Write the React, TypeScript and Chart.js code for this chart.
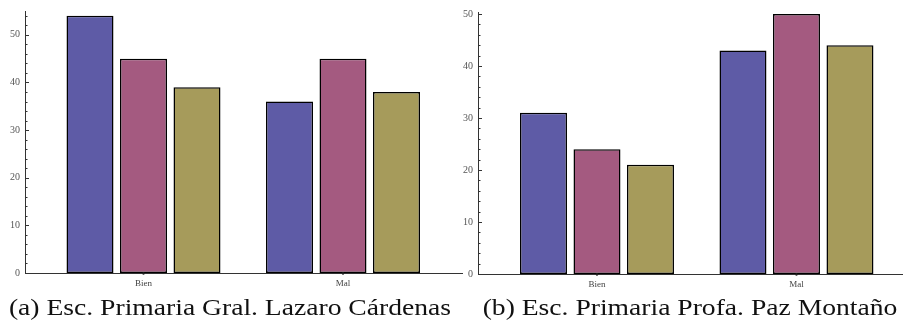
import React, { useEffect, useRef } from 'react';
import { Chart, registerables } from 'chart.js';

Chart.register(...registerables);

// Categories on the horizontal axis
const categories = ['Bien', 'Mal'];

// Fill colours of the three bars in each group
const seriesColors = ['#5e5ba6', '#a45a80', '#a69b5b'];

// (a) Esc. Primaria Gral. Lazaro Cárdenas
const escuelaA1 = [54, 36];
const escuelaA2 = [45, 45];
const escuelaA3 = [39, 38];

// (b) Esc. Primaria Profa. Paz Montaño
const escuelaB1 = [31, 43];
const escuelaB2 = [24, 50];
const escuelaB3 = [21, 44];

// Vertical axis tick values (labelled every 10, minor marks every 2)
const yTicksA = [0, 2, 4, 6, 8, 10, 12, 14, 16, 18, 20, 22, 24, 26, 28, 30, 32, 34, 36, 38, 40, 42, 44, 46, 48, 50, 52, 54];
const yTicksB = [0, 2, 4, 6, 8, 10, 12, 14, 16, 18, 20, 22, 24, 26, 28, 30, 32, 34, 36, 38, 40, 42, 44, 46, 48, 50];

const captionA = '(a) Esc. Primaria Gral. Lazaro Cárdenas';
const captionB = '(b) Esc. Primaria Profa. Paz Montaño';

const tickFont = { family: "'Liberation Serif', serif", size: 10 };

// Inward tick marks on the vertical axis and dots at category positions
const axisMarks = {
  id: 'axisMarks',
  afterDraw(chart: any) {
    const { ctx } = chart;
    const ys = chart.scales.y;
    const xs = chart.scales.x;
    ctx.save();
    ctx.strokeStyle = '#333';
    ctx.lineWidth = 1;
    ys.ticks.forEach((t: any) => {
      const py = Math.round(ys.getPixelForValue(t.value)) + 0.5;
      const len = t.value % 10 === 0 ? 4 : 2.5;
      ctx.beginPath();
      ctx.moveTo(ys.right, py);
      ctx.lineTo(ys.right + len, py);
      ctx.stroke();
    });
    ctx.fillStyle = '#222';
    xs.ticks.forEach((t: any) => {
      const px = xs.getPixelForValue(t.value);
      ctx.beginPath();
      ctx.arc(px, xs.top + 0.5, 1.2, 0, Math.PI * 2);
      ctx.fill();
    });
    ctx.restore();
  },
};

type PanelProps = {
  series: number[][];
  yTicks: number[];
  yMax: number;
  xMin: number;
  xMax: number;
  left: number;
  width: number;
  height: number;
  padTop: number;
  padRight: number;
  xAxisHeight: number;
};

function Panel(p: PanelProps) {
  const ref = useRef<HTMLCanvasElement>(null);

  useEffect(() => {
    if (!ref.current) return;
    const chart = new Chart(ref.current, {
      type: 'bar',
      data: {
        datasets: p.series.map((values, si) => ({
          data: values.map((v, i) => ({ x: i + 1, y: v })),
          backgroundColor: seriesColors[si],
          borderColor: '#000',
          borderWidth: 1.5,
          borderSkipped: false,
          categoryPercentage: 0.8045,
          barPercentage: 0.8785,
        })),
      },
      options: {
        animation: false,
        responsive: false,
        maintainAspectRatio: false,
        events: [],
        layout: { padding: { top: p.padTop, right: p.padRight, left: 0, bottom: 0 } },
        plugins: { legend: { display: false }, tooltip: { enabled: false } },
        scales: {
          x: {
            type: 'linear',
            offset: false,
            min: p.xMin,
            max: p.xMax,
            grid: { display: false, drawTicks: false },
            border: { display: true, color: '#333', width: 1 },
            afterBuildTicks: (s: any) => {
              s.ticks = categories.map((_, i) => ({ value: i + 1 }));
            },
            afterFit: (s: any) => {
              s.height = p.xAxisHeight;
            },
            ticks: {
              autoSkip: false,
              maxRotation: 0,
              padding: 5,
              color: '#444',
              font: { ...tickFont, size: 9 },
              callback: (v: any) => categories[Number(v) - 1] ?? '',
            },
          },
          y: {
            type: 'linear',
            min: 0,
            max: p.yMax,
            grid: { display: false, drawTicks: false },
            border: { display: true, color: '#333', width: 1 },
            afterBuildTicks: (s: any) => {
              s.ticks = p.yTicks.map((v) => ({ value: v }));
            },
            afterFit: (s: any) => {
              s.width = 25;
            },
            ticks: {
              autoSkip: false,
              padding: 5,
              color: '#555',
              font: tickFont,
              callback: (v: any) => (Number(v) % 10 === 0 ? String(v) : ''),
            },
          },
        },
      } as any,
      plugins: [axisMarks],
    });
    return () => chart.destroy();
  }, []);

  return (
    <canvas
      ref={ref}
      width={p.width}
      height={p.height}
      style={{ position: 'absolute', left: p.left, top: 0, width: p.width, height: p.height }}
    />
  );
}

const captionStyle: React.CSSProperties = {
  position: 'absolute',
  top: 292,
  fontFamily: "'Liberation Serif', serif",
  fontSize: 24,
  lineHeight: '30px',
  color: '#111',
  whiteSpace: 'nowrap',
  textAlign: 'center',
  transform: 'scaleX(1.15)',
};

export default function App() {
  return (
    <div style={{ position: 'fixed', left: 0, top: 0, width: 903, height: 329, background: '#fff', overflow: 'hidden' }}>
      <Panel
        series={[escuelaA1, escuelaA2, escuelaA3]}
        yTicks={yTicksA}
        yMax={55}
        xMin={0.406}
        xMax={2.5965}
        left={0}
        width={465}
        height={295}
        padTop={9}
        padRight={3}
        xAxisHeight={22}
      />
      <Panel
        series={[escuelaB1, escuelaB2, escuelaB3]}
        yTicks={yTicksB}
        yMax={50.4}
        xMin={0.4035}
        xMax={2.534}
        left={453}
        width={450}
        height={295}
        padTop={12}
        padRight={0}
        xAxisHeight={21}
      />
      <div style={{ ...captionStyle, left: 0, width: 460 }}>{captionA}</div>
      <div style={{ ...captionStyle, left: 468, width: 444 }}>{captionB}</div>
    </div>
  );
}
